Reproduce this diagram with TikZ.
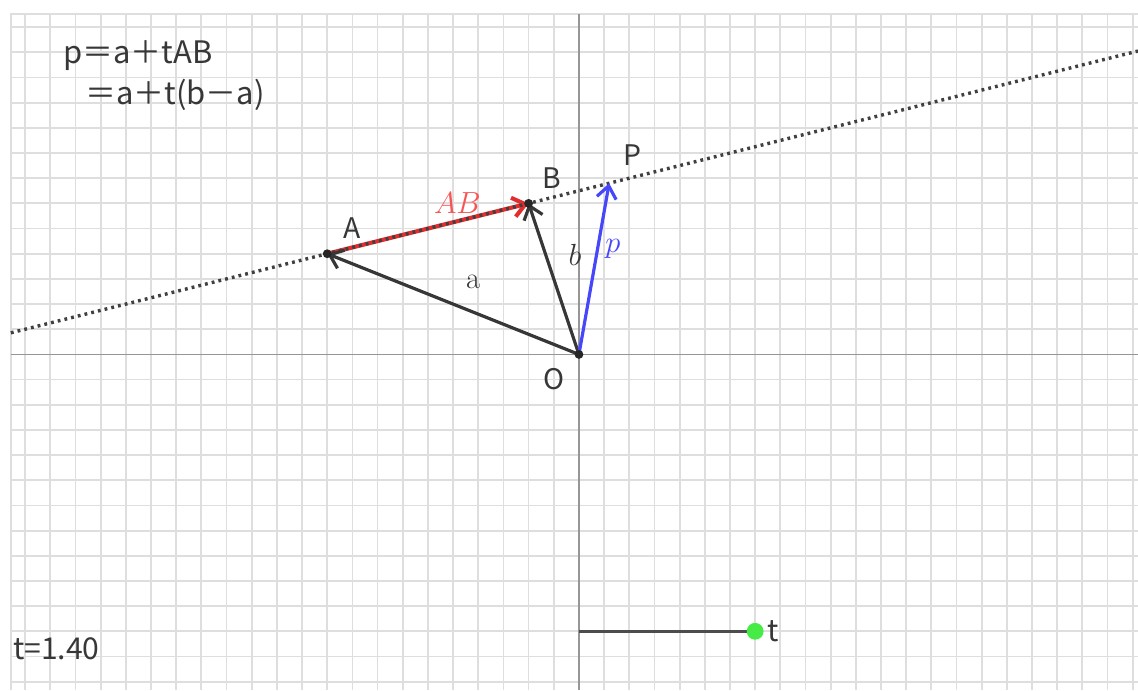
\documentclass[tikz,border=0pt]{standalone}
\usepackage[no-math]{fontspec}
\setmainfont{Noto Sans CJK JP}
\usetikzlibrary{arrows.meta,calc,positioning}
\definecolor{vecgray}{RGB}{55,55,55}
\definecolor{vecblue}{RGB}{70,70,250}
\definecolor{vecred}{RGB}{225,45,45}
\definecolor{labred}{RGB}{245,85,85}
\definecolor{gridgray}{RGB}{222,222,222}
\definecolor{axisgray}{RGB}{150,150,150}
\definecolor{knobgreen}{RGB}{70,235,70}

\begin{document}
\begin{tikzpicture}[scale=0.5,
  every node/.style={font=\fontsize{16}{19}\selectfont, text=vecgray},
  vec/.style={line width=1.8pt, -{Straight Barb[length=7pt,width=11pt]}},
  ptdot/.style={circle, fill=black!85, inner sep=0pt, minimum size=5pt},
  guide/.style={black!75, line width=1.9pt, dash pattern=on 1.6pt off 2.3pt},
  formula/.style={anchor=base west, inner sep=0pt, font=\fontsize{17.5}{21}\selectfont},
  mlbl/.style={font=\fontsize{16}{19}\selectfont}]
  \useasboundingbox (-23,-13.34) rectangle (22.21,14.08);

  % Grid (light)
  \draw[gridgray, line width=1pt, step=1] (-22.57,-13.34) grid (22.21,13.52);
  \draw[gridgray, line width=1pt] (-22.57,-13.34) -- (-22.57,13.52) -- (22.21,13.52);

  % Axes
  \draw[axisgray, line width=1pt] (-22.57,0) -- (22.21,0);
  \draw[axisgray, line width=1pt] (0,-13.34) -- (0,13.52);

  % Points
  \coordinate (O) at (0,0);
  \coordinate (A) at (-10,4);
  \coordinate (B) at (-2,6);
  \coordinate (P) at ($(A)!1.4!(B)$);

  % Vector AB and line AB
  \draw[vec, vecred, line width=2.3pt] (A) -- (B);
  \draw[guide] ($(A)!-1.571!(B)$) -- ($(A)!4.026!(B)$);

  % Vectors a, b, p
  \draw[vec, vecgray] (O) -- (A);
  \draw[vec, vecgray] (O) -- (B);
  \draw[vec, vecblue] (O) -- (P);
  \node[ptdot] (dotA) at (A) {};
  \node[ptdot] (dotB) at (B) {};
  \node[ptdot] (dotO) at (O) {};

  % Labels
  \node (labA) at (-9.02,5.02) {A};
  \node (labB) at (-1.07,7.02) {B};
  \node (labP) at (2.13,7.92) {P};
  \node (labO) at (-1.01,-0.98) {O};
  \node[mlbl, text=labred] (labAB) at (-4.83,6.03) {$AB$};
  \node[mlbl] (laba) at (-4.21,2.89) {$\mathrm{a}$};
  \node[mlbl] (labb) at (-0.16,3.94) {$b$};
  \node[mlbl, text=vecblue] (labp) at (1.35,4.18) {$p$};

  % Formula
  \node[formula] (line1) at (-20.5,11.57) {p＝a＋tAB};
  \node[formula] (line2) at (-19.63,9.94) {＝a＋t(b－a)};

  % Slider t
  \coordinate (s0) at (0,-11);
  \coordinate (s1) at (7,-11);
  \draw[black!70, line width=1.7pt] (s0) -- (s1);
  \node[circle, fill=knobgreen, inner sep=0pt, minimum size=9.5pt] (knob) at (s1) {};
  \node[right=2pt of knob, inner sep=0pt, font=\fontsize{17}{20}\selectfont] (tname) {t};
  \node[anchor=base west, inner sep=0pt, font=\fontsize{17}{20}\selectfont] (tval) at (-22.49,-12.14) {t=1.40};

\end{tikzpicture}
\end{document}
